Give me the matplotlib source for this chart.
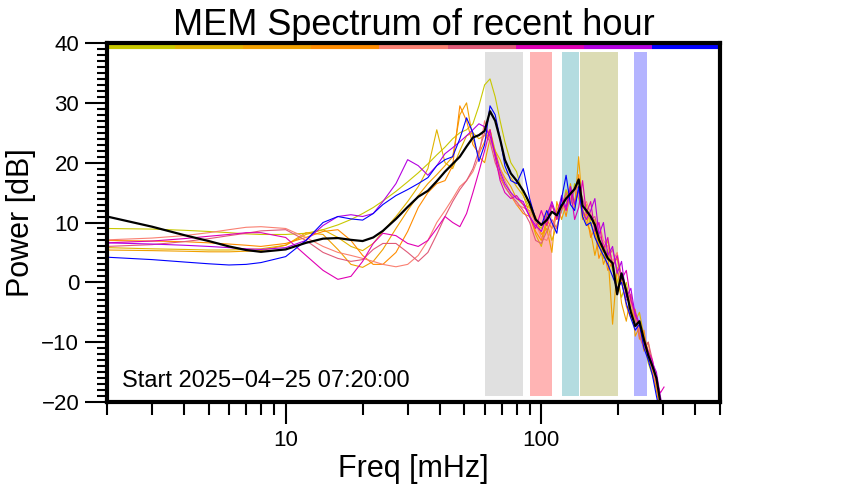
"""
MEM spectrum of the recent hour, redrawn with matplotlib
"""

import numpy as np
import matplotlib
matplotlib.use("Agg")
import matplotlib.pyplot as plt
from matplotlib.ticker import LogLocator, NullFormatter, FixedLocator, FixedFormatter, MultipleLocator

plt.rcParams['font.family'] = ['Liberation Sans', 'DejaVu Sans']

# frequency grid [mHz]
freq = [2, 3, 4, 5, 6, 7, 8,
        10, 12, 14, 16, 18, 20, 22, 24,
        27, 30, 33, 36, 39, 42, 45, 48, 51, 54, 57, 60, 63, 66, 69, 72,
        76, 80, 85, 90, 95, 100, 105, 110, 115, 120, 125, 130, 135, 140, 145, 150,
        156, 162, 168, 175, 182, 190, 198, 206, 215, 224, 233, 242, 252, 262, 272, 282, 292, 302]

# individual spectra [dB], one per block of the hour
spec_yellowgreen = [9.0, 8.9, 8.7, 8.5, 8.3, 8.1, 8.0,
                    8.0, 8.2, 8.8, 9.6, 10.5, 11.5, 12.5, 13.6,
                    15.2, 16.8, 18.3, 19.8, 21.3, 22.6, 24.0, 25.0, 25.5, 26.5, 29.5, 33.0, 34.0, 31.0, 27.0, 23.5,
                    20.0, 18.5, 14.5, 12.5, 10.0, 9.0, 11.5, 13.0, 10.5, 12.0, 15.5, 13.0, 16.5, 14.0, 11.5, 13.0,
                    10.0, 8.0, 6.5, 4.0, 5.5, 2.0, 0.5, -2.5, 0.0, -4.5, -6.0, -8.5, -10.0, -13.5, -15.5, -18.0, -21.0, -23.0]
spec_gold = [5.8, 5.6, 5.5, 5.4, 5.4, 5.5, 5.6,
             6.2, 8.0, 8.8, 7.5, 6.0, 5.3, 6.5, 8.5,
             11.0, 13.5, 16.0, 19.0, 25.5, 20.0, 19.0, 22.0, 24.5, 25.0, 24.0, 24.5, 25.5, 22.0, 20.5, 18.5,
             17.5, 16.0, 14.5, 11.5, 8.0, 6.0, 10.0, 7.0, 9.5, 12.0, 14.5, 16.0, 13.5, 15.0, 11.0, 12.0,
             9.5, 10.5, 6.0, 5.0, 7.0, 3.0, 4.0, 0.0, -1.0, -3.0, -6.5, -5.0, -9.0, -11.5, -14.0, -17.0, -20.5, -23.0]
spec_orange = [5.4, 5.3, 5.2, 5.1, 5.1, 5.2, 5.3,
               6.2, 8.3, 8.0, 5.5, 3.0, 2.5, 3.5, 5.5,
               9.0, 12.0, 14.5, 16.5, 18.0, 19.5, 21.0, 28.0, 30.0, 24.0, 21.0, 20.0, 24.0, 22.0, 19.0, 17.5,
               16.0, 14.0, 13.0, 12.5, 11.0, 8.0, 9.0, 5.0, 13.5, 10.5, 13.0, 16.5, 12.5, 21.0, 12.0, 10.0,
               8.5, 4.5, 7.5, 3.0, 5.0, -7.0, 2.5, -3.5, -6.5, -2.0, -9.0, -7.5, -11.5, -10.0, -14.5, -18.0, -21.5, -24.0]
spec_darkorange = [7.0, 6.9, 6.8, 6.6, 6.4, 6.2, 6.0,
                   6.5, 7.5, 8.5, 8.8, 7.0, 4.5, 3.0, 3.0,
                   5.0, 8.5, 12.5, 15.0, 16.5, 17.0, 19.5, 29.5, 27.0, 23.0, 21.5, 23.5, 25.5, 21.0, 17.5, 16.0,
                   14.5, 13.0, 11.5, 11.0, 8.5, 7.0, 10.5, 9.0, 12.0, 14.0, 11.0, 15.0, 13.0, 18.0, 10.5, 11.5,
                   7.5, 9.0, 4.0, 6.0, 2.0, 3.5, -1.0, 0.5, -4.0, -6.0, -4.5, -9.5, -8.0, -12.5, -15.0, -17.5, -20.0, -22.5]
spec_salmon = [7.1, 7.4, 7.8, 8.3, 8.8, 9.2, 9.3,
               9.0, 7.5, 6.0, 5.0, 4.5, 4.0, 3.5, 3.0,
               2.6, 3.0, 4.5, 7.0, 10.0, 12.0, 14.0, 16.0, 17.0, 18.5, 21.0, 27.0, 24.0, 21.0, 19.0, 17.0,
               15.0, 13.0, 12.5, 12.0, 10.0, 7.5, 7.0, 9.0, 11.0, 13.0, 12.0, 14.0, 16.0, 14.5, 12.5, 13.5,
               11.5, 9.0, 10.0, 7.0, 6.0, 3.5, 5.0, 1.0, -1.0, -3.5, -6.0, -8.0, -10.5, -12.5, -14.5, -17.0, -20.5, -23.0]
spec_pink = [6.0, 6.3, 6.8, 7.3, 7.8, 8.2, 8.6,
             8.8, 7.0, 5.0, 4.0, 3.5, 3.8, 5.5, 6.5,
             6.5, 5.0, 3.5, 5.0, 8.0, 11.0, 13.5, 15.5, 17.0, 19.0, 22.0, 25.0, 23.5, 20.0, 18.0, 16.0,
             14.5, 13.5, 12.0, 10.0, 7.0, 6.5, 8.5, 10.5, 9.0, 12.0, 15.0, 13.0, 15.5, 16.0, 14.0, 12.0,
             10.5, 11.0, 8.0, 6.5, 4.0, 5.5, 2.0, 0.0, -3.0, -2.0, -6.0, -9.0, -11.0, -10.0, -13.0, -16.0, -19.5, -22.5]
spec_magenta = [6.6, 6.9, 7.3, 7.7, 8.0, 8.3, 8.3,
                7.5, 4.5, 2.0, 0.5, 1.0, 3.5, 6.5, 8.2,
                7.8, 6.5, 6.0, 7.0, 9.0, 11.0, 10.0, 9.3, 11.5, 15.0, 18.5, 22.0, 25.5, 21.0, 17.0, 15.0,
                14.0, 14.5, 13.0, 11.0, 9.0, 12.0, 9.5, 13.0, 10.5, 14.0, 12.0, 15.5, 10.5, 12.5, 17.0, 11.5,
                13.5, 8.5, 10.0, 5.5, 7.5, 2.5, 4.5, 0.5, 2.0, -3.0, -5.0, -7.0, -9.5, -11.5, -13.0, -16.5, -18.5, -17.5]
spec_purple = [6.6, 6.4, 6.2, 6.0, 5.8, 5.6, 5.5,
               5.8, 7.0, 9.5, 11.0, 11.3, 11.0, 11.5, 13.5,
               16.5, 20.5, 19.5, 17.9, 19.5, 21.5, 22.5, 23.5, 24.5, 25.5, 26.5, 26.0, 24.5, 21.5, 18.5, 16.5,
               15.0, 14.0, 13.5, 11.0, 9.5, 8.5, 11.0, 13.5, 11.0, 14.5, 12.5, 16.0, 13.0, 15.5, 12.0, 10.5,
               12.0, 14.0, 8.0, 10.0, 4.5, 6.0, 1.5, 3.5, -2.5, -1.0, -5.5, -7.0, -10.0, -12.0, -13.5, -15.0, -19.0, -22.0]
spec_blue = [4.2, 3.8, 3.4, 3.1, 2.9, 3.0, 3.3,
             4.3, 7.0, 10.0, 11.0, 10.6, 10.4, 11.5, 13.0,
             14.5, 15.5, 16.5, 17.5, 19.5, 20.5, 21.0, 24.0, 27.5, 25.0, 20.2, 23.0, 29.5, 28.0, 24.0, 19.5,
             17.0, 16.5, 19.0, 14.0, 10.5, 9.5, 12.0, 10.0, 8.2, 14.0, 17.9, 13.0, 12.0, 16.0, 11.0, 9.5,
             10.0, 7.5, 6.0, 4.5, 3.0, 1.0, -1.0, 0.0, -3.5, -6.0, -8.0, -7.0, -11.0, -13.0, -15.5, -19.0, -22.0, -24.0]

# mean spectrum of the hour
spec_mean = [11.0, 9.3, 7.9, 6.9, 6.0, 5.4, 5.1,
             5.5, 6.6, 7.3, 7.4, 7.1, 6.9, 7.5, 8.6,
             10.6, 12.6, 14.3, 15.3, 16.9, 18.5, 19.8, 21.0, 22.7, 24.2, 24.6, 25.3, 28.6, 27.0, 23.9, 20.5,
             18.2, 17.0, 15.3, 13.2, 10.5, 9.6, 10.4, 11.8, 11.2, 12.8, 14.0, 14.8, 15.6, 17.2, 12.8, 12.0,
             11.0, 9.6, 7.2, 5.5, 4.0, 3.2, -2.0, 1.5, -1.5, -5.0, -7.3, -6.5, -9.6, -12.2, -14.0, -16.0, -20.0, -24.0]

spectra = [spec_yellowgreen, spec_gold, spec_orange, spec_darkorange, spec_salmon,
           spec_pink, spec_magenta, spec_purple, spec_blue]
spec_colors = ['#c8c800', '#e0b400', '#f0a000', '#ff8c00', '#fa8072',
               '#e05a78', '#e000b4', '#b400e0', '#0000ff']

# frequency bands [mHz]
band_lo = [60, 90, 120, 142, 230]
band_hi = [85, 110, 140, 200, 260]
band_colors = ['#e0e0e0', '#ffb4b4', '#b4dce0', '#dcdcb4', '#b4b4ff']

fig = plt.figure(figsize=(8.42, 5), dpi=100)
ax = fig.add_axes([107 / 842, 98 / 500, 613 / 842, 359 / 500])

for lo, hi, c in zip(band_lo, band_hi, band_colors):
    ax.fill_between([lo, hi], -19, 38.5, color=c, lw=0, zorder=1)

for s, c in zip(spectra, spec_colors):
    ax.plot(freq, s, color=c, lw=0.8, zorder=2)
ax.plot(freq, spec_mean, color='black', lw=1.6, zorder=3)

ax.set_xscale('log')
ax.set_xlim(2, 500)
ax.set_ylim(-20, 40)

# colour key bar along the top
edges = np.logspace(np.log10(2), np.log10(500), len(spec_colors) + 1)
for i, c in enumerate(spec_colors):
    ax.plot([edges[i], edges[i + 1]], [39.3, 39.3], color=c, lw=3, solid_capstyle='butt',
            zorder=4, clip_on=False)

ax.xaxis.set_major_locator(FixedLocator([10, 100]))
ax.xaxis.set_major_formatter(FixedFormatter(['10', '100']))
ax.xaxis.set_minor_locator(LogLocator(base=10, subs=np.arange(2, 10)))
ax.xaxis.set_minor_formatter(NullFormatter())
ax.yaxis.set_major_locator(MultipleLocator(10))
ax.yaxis.set_minor_locator(MultipleLocator(1))

ax.tick_params(which='major', length=16, width=1.5, labelsize=16, pad=4)
ax.tick_params(which='minor', length=7, width=1.5)
ax.tick_params(axis='x', which='minor', length=9)
for sp in ax.spines.values():
    sp.set_linewidth(3)
    sp.set_zorder(5)

ax.set_title('MEM Spectrum of recent hour', fontsize=26, pad=4)
ax.set_xlabel('Freq [mHz]', fontsize=22, labelpad=2)
ax.set_ylabel('Power [dB]', fontsize=22, labelpad=4)

ax.text(15 / 613, 21 / 359, 'Start 2025\u221204\u221225 07:20:00', transform=ax.transAxes,
        fontsize=17, ha='left', va='center')

fig.savefig('out.png', dpi=100)
